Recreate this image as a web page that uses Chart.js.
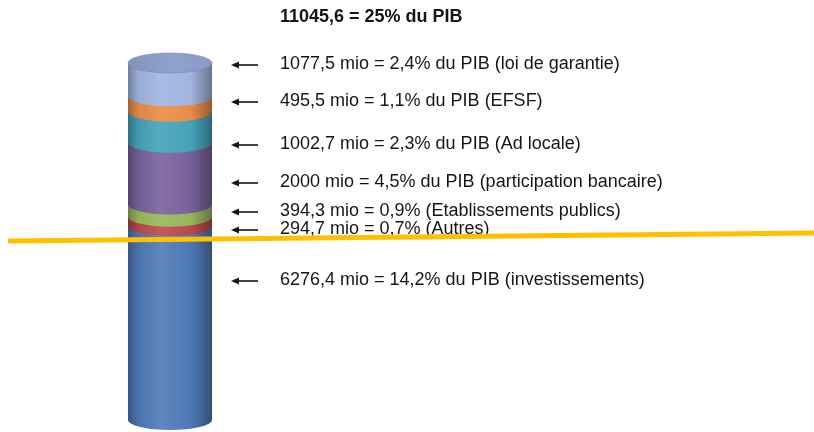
<!DOCTYPE html>
<html>
<head>
<meta charset="utf-8">
<script src="https://cdn.jsdelivr.net/npm/chart.js@4.4.0/dist/chart.umd.min.js"></script>
<style>
  html, body { margin: 0; padding: 0; background: #fff; }
  #wrap { width: 814px; height: 432px; position: relative; }
</style>
</head>
<body>
<div id="wrap"><canvas id="cylChart"></canvas></div>
<script>
// data, bottom to top
const categories = ['Total'];
const segmentNames = ['investissements', 'Autres', 'Etablissements publics', 'participation bancaire', 'Ad locale', 'EFSF', 'loi de garantie'];
const segmentValues = [6276.4, 294.7, 394.3, 2000, 1002.7, 495.5, 1077.5];
const segmentPct = [14.2, 0.7, 0.9, 4.5, 2.3, 1.1, 2.4];
const segmentDuPib = [true, false, false, true, true, true, true];
const totalValue = 11045.6;
const totalPct = 25;

const segmentColors = ['#4d79b6', '#bb474b', '#97b65a', '#78619b', '#44a2b8', '#e88b46', '#a0b4de'];
const capColor = '#8fa2cf';

// where the annotations sit (pixels)
const labelY = [280, 229, 211, 182, 144, 101, 64];
const titleY = 17;
const textX = 280;

const fr = (n) => String(n).replace('.', ',');

const labelText = segmentNames.map((name, i) =>
    fr(segmentValues[i]) + ' mio = ' + fr(segmentPct[i]) + '% ' + (segmentDuPib[i] ? 'du PIB ' : '') + '(' + name + ')'
);

const shade = (hex, amt) => {
    let r = parseInt(hex.slice(1, 3), 16), g = parseInt(hex.slice(3, 5), 16), b = parseInt(hex.slice(5, 7), 16);
    const f = (c) => Math.max(0, Math.min(255, Math.round(amt < 0 ? c * (1 + amt) : c + (255 - c) * amt)));
    return 'rgb(' + f(r) + ',' + f(g) + ',' + f(b) + ')';
};

const cylinderPlugin = {
    id: 'cylinder',
    beforeDatasetsDraw(chart) {
        const ctx = chart.ctx;
        const n = chart.data.datasets.length;
        let topEl = null;
        for (let i = 0; i < n; i++) {
            const el = chart.getDatasetMeta(i).data[0];
            const rx = el.width / 2, ry = 10;
            const left = el.x - rx, right = el.x + rx;
            const top = el.y, bottom = el.base;
            const col = segmentColors[i];
            const grad = ctx.createLinearGradient(left, 0, right, 0);
            grad.addColorStop(0, shade(col, -0.3));
            grad.addColorStop(0.12, shade(col, -0.05));
            grad.addColorStop(0.38, shade(col, 0.1));
            grad.addColorStop(0.75, col);
            grad.addColorStop(1, shade(col, -0.35));
            ctx.save();
            ctx.beginPath();
            ctx.moveTo(left, top);
            ctx.lineTo(right, top);
            ctx.lineTo(right, bottom);
            ctx.ellipse(el.x, bottom, rx, ry, 0, 0, Math.PI, false);
            ctx.closePath();
            ctx.fillStyle = grad;
            ctx.fill();
            ctx.restore();
            topEl = el;
        }
        if (topEl) {
            ctx.save();
            ctx.beginPath();
            ctx.ellipse(topEl.x, topEl.y, topEl.width / 2, 10, 0, 0, Math.PI * 2);
            const g2 = ctx.createLinearGradient(topEl.x - topEl.width / 2, 0, topEl.x + topEl.width / 2, 0);
            g2.addColorStop(0, shade(capColor, -0.1));
            g2.addColorStop(0.5, capColor);
            g2.addColorStop(1, shade(capColor, -0.05));
            ctx.fillStyle = g2;
            ctx.fill();
            ctx.strokeStyle = 'rgba(120,135,175,0.6)';
            ctx.lineWidth = 1;
            ctx.stroke();
            ctx.restore();
        }
        return false;
    },
    afterDraw(chart) {
        const ctx = chart.ctx;
        ctx.save();
        ctx.fillStyle = '#151515';
        ctx.textBaseline = 'middle';
        ctx.font = 'bold 18px "Liberation Sans", Arial, sans-serif';
        ctx.fillText(fr(totalValue) + ' = ' + totalPct + '% du PIB', textX, titleY);
        ctx.font = '18px "Liberation Sans", Arial, sans-serif';
        ctx.strokeStyle = '#151515';
        ctx.lineWidth = 1.6;
        labelText.forEach((t, i) => {
            const y = labelY[i];
            ctx.fillText(t, textX, y);
            ctx.beginPath();
            ctx.moveTo(258, y + 1);
            ctx.lineTo(235, y + 1);
            ctx.stroke();
            ctx.beginPath();
            ctx.moveTo(231, y + 1);
            ctx.lineTo(239, y - 2.5);
            ctx.lineTo(239, y + 4.5);
            ctx.closePath();
            ctx.fill();
        });
        // yellow line across
        ctx.strokeStyle = '#ffc000';
        ctx.lineWidth = 5;
        ctx.beginPath();
        ctx.moveTo(8, 241);
        ctx.lineTo(814, 233);
        ctx.stroke();
        ctx.restore();
    }
};

const drawChart = () => {
    const ctx = document.getElementById('cylChart').getContext('2d');
    const total = segmentValues.reduce((a, b) => a + b, 0);

    new Chart(ctx, {
        type: 'bar',
        data: {
            labels: categories,
            datasets: segmentValues.map((v, i) => ({
                label: segmentNames[i],
                data: [v],
                backgroundColor: segmentColors[i],
                barPercentage: 1,
                categoryPercentage: 1,
            }))
        },
        options: {
            responsive: true,
            maintainAspectRatio: false,
            animation: false,
            layout: {
                padding: { left: 128, right: 602, top: 63, bottom: 12 }
            },
            scales: {
                x: { stacked: true, display: false },
                y: { stacked: true, display: false, min: 0, max: total }
            },
            plugins: {
                legend: { display: false },
                tooltip: { enabled: false }
            }
        },
        plugins: [cylinderPlugin]
    });
}

document.addEventListener('DOMContentLoaded', drawChart);
</script>
</body>
</html>
